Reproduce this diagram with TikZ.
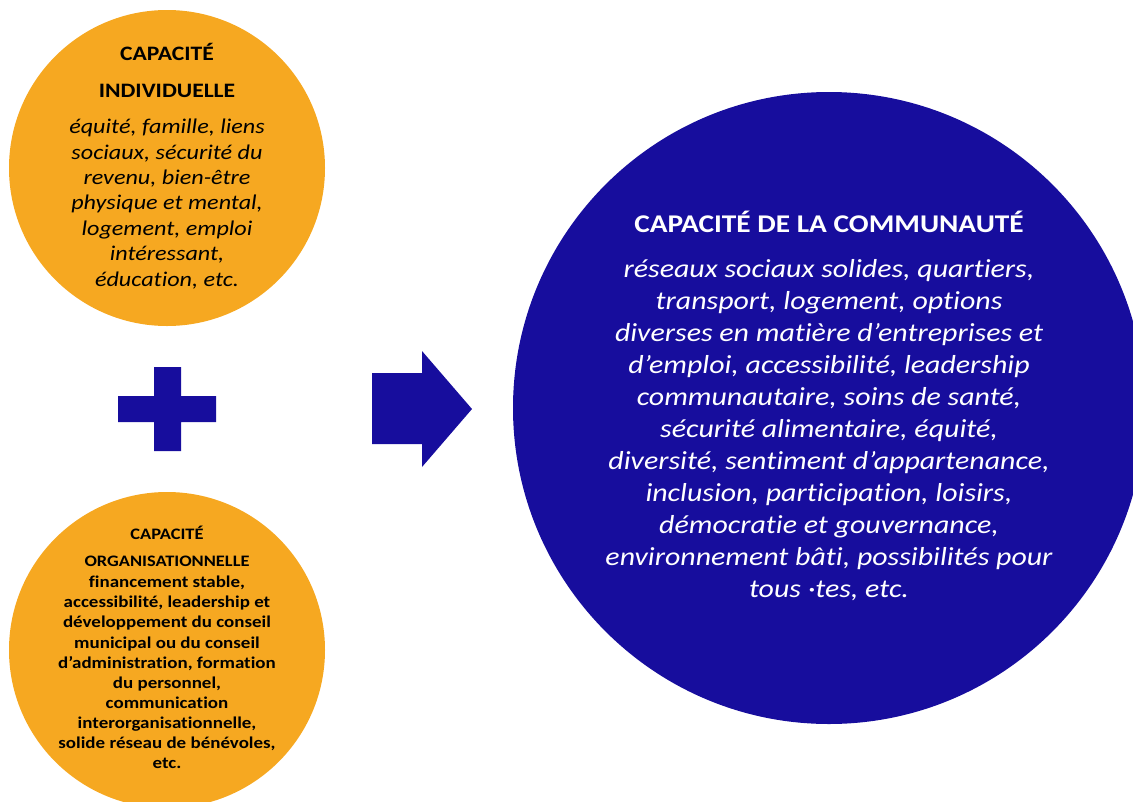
\documentclass[tikz,border=0pt]{standalone}
\usepackage{fontspec}
\setmainfont{Carlito}[FakeStretch=1.15, Ligatures=NoCommon]
\definecolor{orng}{RGB}{246,168,33}
\definecolor{navy}{RGB}{23,13,157}
\begin{document}
\begin{tikzpicture}[x=1pt,y=-1pt,
  disc/.style={circle, draw=none, inner sep=0pt, minimum size=#1},
  orangedisc/.style={disc=316pt, fill=orng},
  bluedisc/.style={disc=632pt, fill=navy},
  txt/.style={align=center, inner sep=0pt, anchor=north},
  shapefill/.style={fill=navy, draw=none}]
\useasboundingbox (0,0) rectangle (1133,801);
\clip (0,0) rectangle (1133,801);
% circles
\node[orangedisc] (ind) at (167,168) {};
\node[orangedisc] (org) at (167,650) {};
\node[bluedisc] (com) at (829,408) {};
% plus sign
\fill[shapefill] (154,367) -- (181,367) -- (181,396) -- (216,396) -- (216,422) -- (181,422)
  -- (181,451) -- (154,451) -- (154,422) -- (118,422) -- (118,396) -- (154,396) -- cycle;
% arrow
\fill[shapefill] (372,373) -- (422,373) -- (422,351) -- (472,409) -- (422,467) -- (422,444)
  -- (372,444) -- cycle;
% individual capacity
\node[txt, font=\fontsize{20.5}{37}\selectfont\bfseries] (indtitle) at (167,43)
  {CAPACITÉ\\INDIVIDUELLE};
\node[txt, font=\fontsize{21}{25.4}\selectfont\itshape] (indbody) at (167,119)
  {équité, famille, liens\\sociaux, sécurité du\\revenu, bien-être\\physique et mental,\\logement, emploi\\intéressant,\\éducation, etc.};
% organisational capacity
\node[txt, font=\fontsize{16}{27}\selectfont\bfseries] (orgtitle) at (167,526)
  {CAPACITÉ\\ORGANISATIONNELLE};
\node[txt, font=\fontsize{16.5}{20.1}\selectfont\bfseries] (orgbody) at (167,576)
  {financement stable,\\accessibilité, leadership et\\développement du conseil\\municipal ou du conseil\\d’administration, formation\\du personnel,\\communication\\interorganisationnelle,\\solide réseau de bénévoles,\\etc.};
% community capacity
\node[txt, font=\fontsize{25.5}{29}\selectfont\bfseries, text=white] (comtitle) at (829,211)
  {CAPACITÉ DE LA COMMUNAUTÉ};
\node[txt, font=\fontsize{26}{32}\selectfont\itshape, text=white] (combody) at (829,259)
  {réseaux sociaux solides, quartiers,\\transport, logement, options\\diverses en matière d’entreprises et\\d’emploi, accessibilité, leadership\\communautaire, soins de santé,\\sécurité alimentaire, équité,\\diversité, sentiment d’appartenance,\\inclusion, participation, loisirs,\\démocratie et gouvernance,\\environnement bâti, possibilités pour\\tous ·tes, etc.};
\end{tikzpicture}
\end{document}
